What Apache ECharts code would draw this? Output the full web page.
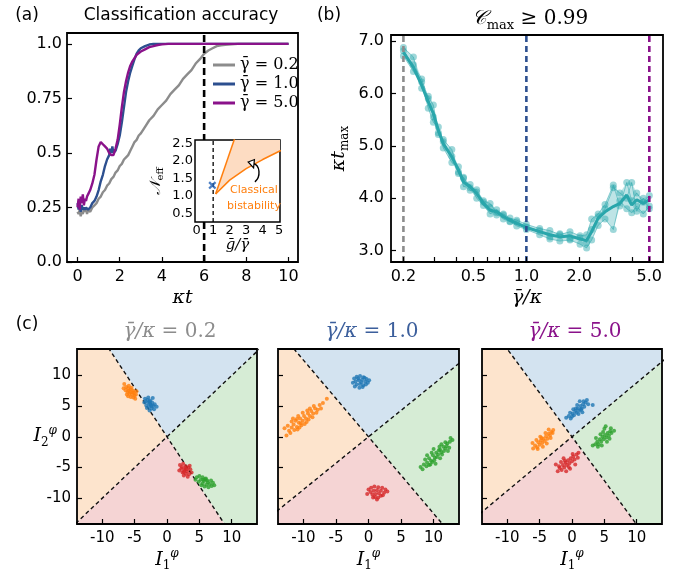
<!DOCTYPE html>
<html><head><meta charset="utf-8">
<script src="https://cdn.jsdelivr.net/npm/echarts@6/dist/echarts.min.js"></script>
<style>html,body{margin:0;padding:0;background:#fff}#c{width:688px;height:583px}</style>
</head><body><div id="c"></div>
<script>
// ---------- Panel (a): classification accuracy ----------
const aGrayT=[0,0.05,0.1,0.15,0.2,0.25,0.3,0.35,0.4,0.45,0.5,0.6,0.7,0.8,0.9,1.0,1.1,1.2,1.3,1.4,1.5,1.6,1.7,1.8,1.9,2.0,2.1,2.2,2.3,2.4,2.5,2.6,2.7,2.8,2.9,3.0,3.2,3.4,3.6,3.8,4.0,4.2,4.4,4.6,4.8,5.0,5.2,5.4,5.6,5.8,6.0,6.2,6.4,6.6,6.8,7.0,7.3,7.6,8.0,9.0,10.0];
const aGrayY=[0.23,0.22,0.24,0.21,0.23,0.22,0.24,0.23,0.25,0.22,0.24,0.23,0.25,0.26,0.27,0.29,0.30,0.32,0.33,0.35,0.36,0.38,0.39,0.41,0.42,0.44,0.45,0.47,0.48,0.49,0.51,0.53,0.55,0.56,0.58,0.59,0.62,0.65,0.67,0.70,0.72,0.74,0.77,0.79,0.81,0.84,0.86,0.88,0.91,0.93,0.955,0.97,0.98,0.99,0.993,0.996,0.998,1.0,1.0,1.0,1.0];
const aBlueT=[0,0.05,0.1,0.15,0.2,0.25,0.3,0.35,0.4,0.5,0.6,0.7,0.8,0.9,1.0,1.1,1.2,1.3,1.4,1.5,1.55,1.6,1.65,1.7,1.8,1.9,2.0,2.1,2.2,2.3,2.4,2.5,2.6,2.7,2.8,2.9,3.0,3.2,3.4,3.6,3.8,4.0,10.0];
const aBlueY=[0.27,0.24,0.28,0.23,0.26,0.24,0.25,0.24,0.25,0.24,0.25,0.27,0.28,0.30,0.33,0.37,0.40,0.44,0.47,0.49,0.52,0.50,0.53,0.50,0.51,0.54,0.58,0.64,0.71,0.78,0.83,0.87,0.90,0.93,0.955,0.97,0.98,0.99,0.997,1.0,1.0,1.0,1.0];
const aPurpT=[0,0.05,0.1,0.15,0.2,0.25,0.3,0.35,0.4,0.45,0.5,0.6,0.7,0.8,0.9,1.0,1.1,1.2,1.3,1.4,1.5,1.6,1.7,1.8,1.9,2.0,2.1,2.2,2.3,2.4,2.5,2.6,2.8,3.0,3.2,3.4,3.6,3.8,4.0,4.3,10.0];
const aPurpY=[0.25,0.29,0.24,0.30,0.27,0.31,0.26,0.29,0.28,0.30,0.31,0.33,0.36,0.40,0.47,0.53,0.55,0.54,0.53,0.52,0.50,0.49,0.49,0.52,0.56,0.63,0.71,0.78,0.83,0.87,0.90,0.92,0.95,0.965,0.975,0.985,0.99,0.995,0.998,1.0,1.0];
const aNames=['γ̄ = 0.2','γ̄ = 1.0','γ̄ = 5.0'];
const aXTicks=[0,2,4,6,8,10];
const aYTicks=[0,0.25,0.5,0.75,1.0];
const aYLabels=['0.0','0.25','0.5','0.75','1.0'];
const aVLine=6;
// inset
const insXTicks=[0,1,2,3,4,5];
const insYTicks=[0.5,1.0,1.5,2.0,2.5];
const insYLabels=['0.5','1.0','1.5','2.0','2.5'];
const insUpper=[[1.15,1.05],[2.4,2.78]];
const insLower=[[1.15,1.05],[2,1.45],[3,1.78],[4,2.04],[5.1,2.3]];
const insCross=[[0.95,1.3]];
const insDash=1;
const insArrow=[[3.53,1.40],[3.9,1.55],[3.85,1.88],[3.42,1.93]]; // start, cp1, cp2, end
const insHead=[[3.12,1.97],[3.50,2.04],[3.45,1.80]];
// ---------- Panel (b) ----------
const bX=[0.2,0.228,0.254,0.277,0.296,0.316,0.337,0.377,0.411,0.439,0.479,0.522,0.570,0.622,0.678,0.740,0.807,0.881,1.0,1.19,1.36,1.55,1.77,2.02,2.20,2.35,2.56,2.80,3.12,3.40,3.72,3.97,4.24,4.62,5.0];
const bMean=[6.79,6.50,6.16,5.84,5.62,5.30,5.04,4.79,4.54,4.31,4.22,4.09,3.90,3.77,3.74,3.65,3.58,3.52,3.44,3.36,3.30,3.26,3.28,3.22,3.19,3.36,3.62,3.74,3.84,3.90,4.06,3.87,3.97,3.90,3.97];
const bRun1=[6.88,6.70,6.10,5.95,5.78,5.25,5.12,4.93,4.47,4.40,4.20,4.16,3.95,3.90,3.72,3.70,3.62,3.58,3.50,3.42,3.38,3.30,3.36,3.28,3.30,3.60,3.70,3.88,4.25,3.85,4.30,3.95,4.10,3.92,4.05];
const bRun2=[6.72,6.42,6.22,5.72,5.45,5.36,4.96,4.68,4.60,4.22,4.26,4.00,3.86,3.70,3.78,3.60,3.55,3.47,3.40,3.30,3.22,3.18,3.20,3.12,3.05,3.20,3.48,3.60,3.40,3.95,3.80,3.72,3.85,3.70,3.85];
const bRun3=[6.82,6.55,6.28,5.90,5.55,5.22,5.08,4.80,4.50,4.38,4.15,4.12,3.92,3.82,3.68,3.68,3.56,3.55,3.45,3.38,3.26,3.32,3.22,3.25,3.15,3.40,3.65,3.80,4.20,4.10,4.00,4.30,3.75,4.00,3.80];
const bXTicks=[0.2,0.3,0.4,0.5,0.6,0.7,0.8,0.9,1,2,3,4,5];
const bXLabels=[0.2,0.5,1,2,5];
const bYTicks=[3,4,5,6,7];
const bVLines=[0.2,1.0,5.0];
// ---------- Panel (c) ----------
const cTicks=[-10,-5,0,5,10];
const cSlopes=[[-1.6,1.0],[-1.25,0.86],[-1.43,0.88]];
const cTitles=['0.2','1.0','5.0'];
const c1Orange=[[-6.6,8.6],[-6.3,8.1],[-6.0,7.9],[-5.6,7.7],[-5.2,7.5],[-6.1,7.3],[-5.8,7.0],[-5.4,6.9],[-5.0,6.7],[-6.4,7.6],[-5.1,7.2],[-5.9,7.5],[-5.5,8.0],[-6.2,6.9],[-4.8,6.9],[-5.6,6.5],[-6.7,7.9],[-5.2,6.4],[-5.9,8.3],[-4.7,7.4],[-5.7,7.3],[-5.3,7.2],[-6.0,6.6],[-4.9,6.2]];
const c1Blue=[[-3.4,6.2],[-3.0,6.0],[-2.6,5.9],[-2.3,5.6],[-2.9,5.5],[-2.5,5.2],[-2.1,5.0],[-3.2,5.1],[-2.8,4.9],[-2.4,4.6],[-1.9,5.3],[-3.5,5.6],[-2.2,6.3],[-2.7,5.7],[-3.1,4.7],[-2.0,4.5],[-1.6,4.9],[-2.9,6.4],[-2.6,5.4],[-3.3,5.8],[-2.4,5.0],[-2.7,4.3]];
const c1Red=[[2.0,-4.6],[2.5,-4.4],[2.9,-4.8],[3.3,-5.0],[2.2,-5.2],[2.7,-5.4],[3.1,-5.6],[3.6,-5.3],[2.4,-5.8],[2.9,-6.0],[3.4,-6.1],[1.9,-5.5],[3.8,-5.8],[2.6,-6.3],[3.2,-6.5],[2.8,-5.1],[2.3,-4.9],[3.5,-4.7],[3.0,-5.3],[2.6,-5.7]];
const c1Green=[[4.6,-6.6],[5.0,-6.4],[5.5,-6.6],[6.0,-6.8],[5.2,-7.0],[5.7,-7.2],[6.3,-7.4],[6.8,-7.1],[4.9,-7.3],[5.5,-7.6],[6.1,-7.8],[6.6,-7.7],[7.1,-7.5],[5.8,-8.1],[6.4,-8.2],[5.3,-7.9],[4.4,-7.0],[6.9,-8.0],[5.9,-6.9],[6.2,-7.1],[5.6,-7.0],[7.3,-7.9]];
const c2Blue=[[-2.2,9.5],[-1.8,9.8],[-1.3,9.9],[-0.8,9.7],[-0.3,9.4],[-2.0,9.0],[-1.5,9.2],[-1.0,9.3],[-0.5,9.0],[-0.1,8.8],[-1.8,8.5],[-1.3,8.6],[-0.8,8.4],[-0.4,8.5],[-1.4,8.0],[-0.9,8.1],[-2.4,8.8],[0.1,9.2],[-1.1,8.9],[-0.6,9.6],[-1.6,9.5],[-2.1,8.2]];
const c2Orange=[[-12.6,0.2],[-12.2,1.0],[-11.8,1.5],[-11.5,2.0],[-11.0,1.6],[-11.2,2.6],[-10.7,2.3],[-10.5,3.0],[-10.1,2.6],[-9.9,3.4],[-9.6,3.0],[-9.3,3.8],[-9.0,3.4],[-8.8,4.2],[-8.5,3.8],[-8.2,4.6],[-7.8,4.4],[-7.5,5.2],[-7.0,5.5],[-6.4,6.2],[-11.8,2.5],[-10.3,1.9],[-9.5,2.4],[-10.8,3.4],[-12.4,1.8],[-9.0,4.6],[-12.0,0.6],[-11.4,1.1],[-10.9,1.2],[-10.4,2.2],[-9.8,2.1],[-11.6,3.0],[-10.1,3.9],[-9.4,4.3],[-8.6,3.2],[-8.0,3.9],[-9.2,2.8],[-10.6,1.5],[-11.0,2.9],[-8.4,5.0],[-7.3,4.6],[-12.9,1.4]];
const c2Green=[[8.0,-4.9],[8.5,-4.5],[9.0,-4.2],[9.3,-3.5],[9.6,-3.9],[9.9,-3.0],[10.2,-3.4],[10.4,-2.6],[10.7,-2.9],[11.0,-2.1],[11.2,-2.5],[11.5,-1.6],[11.8,-1.9],[12.1,-1.1],[12.5,-0.8],[12.9,-0.5],[9.0,-3.0],[10.0,-2.0],[11.0,-3.5],[9.5,-4.5],[11.8,-0.9],[8.7,-3.7],[12.2,-2.3],[8.3,-5.3],[8.9,-4.8],[9.3,-4.6],[9.8,-4.1],[10.1,-3.8],[10.5,-3.3],[10.8,-2.2],[11.3,-2.9],[11.6,-2.3],[12.0,-1.5],[12.4,-1.8],[10.3,-4.4],[9.7,-2.6],[11.2,-1.2],[12.6,-0.2],[10.9,-1.6]];
const c2Red=[[0.0,-8.6],[0.4,-8.3],[0.9,-8.1],[1.5,-8.2],[2.1,-8.3],[2.6,-8.6],[0.3,-9.0],[0.8,-8.8],[1.3,-8.7],[1.9,-8.8],[2.4,-9.1],[0.6,-9.4],[1.1,-9.3],[1.6,-9.2],[2.2,-9.5],[1.0,-9.8],[1.5,-9.9],[-0.2,-9.3],[2.9,-8.9],[1.3,-10.2],[0.7,-9.9],[1.9,-9.6]];
const c3Blue=[[-0.9,3.1],[-0.5,3.4],[-0.2,3.0],[0.1,3.8],[0.3,3.5],[0.5,4.2],[0.7,3.9],[0.9,4.6],[1.1,4.3],[1.3,5.0],[1.5,4.6],[1.7,5.3],[1.9,4.9],[2.1,5.6],[2.5,5.3],[1.2,5.8],[0.2,4.5],[1.6,4.0],[-0.3,3.9],[3.2,5.2],[0.8,5.2],[2.3,6.0],[0.0,3.3],[0.6,4.6],[1.4,4.4],[1.0,3.7],[1.8,5.8]];
const c3Orange=[[-6.0,-1.9],[-5.7,-1.4],[-5.4,-1.7],[-5.2,-0.9],[-5.0,-1.3],[-4.8,-0.6],[-4.6,-1.0],[-4.4,-0.3],[-4.2,-0.7],[-4.0,0.1],[-3.8,-0.3],[-3.6,0.5],[-3.4,0.2],[-3.2,0.8],[-3.0,0.6],[-3.6,1.2],[-5.5,-0.5],[-4.5,-1.6],[-4.9,0.0],[-3.9,-1.1],[-6.1,-1.0],[-2.9,1.1],[-5.3,-2.0],[-4.1,0.6],[-4.7,-0.2],[-3.3,-0.2]];
const c3Green=[[3.2,-1.4],[3.6,-1.2],[3.9,-0.8],[4.1,-1.2],[4.3,-0.4],[4.5,-0.8],[4.7,0.0],[4.9,-0.4],[5.1,0.3],[5.3,-0.1],[5.5,0.6],[5.7,0.2],[5.9,0.9],[6.1,0.6],[5.0,1.3],[4.4,0.4],[5.4,-0.8],[3.7,-0.2],[6.5,1.0],[4.8,0.8],[5.8,-0.3],[4.0,-1.6],[5.2,1.7],[4.6,-1.4],[6.0,1.4]];
const c3Red=[[-2.2,-5.6],[-1.9,-5.1],[-1.6,-5.4],[-1.4,-4.6],[-1.2,-5.0],[-1.0,-4.2],[-0.8,-4.6],[-0.6,-3.8],[-0.4,-4.3],[-0.2,-3.5],[0.0,-4.0],[0.2,-3.2],[0.4,-3.7],[0.7,-2.9],[1.0,-2.6],[-1.7,-4.1],[-0.3,-5.2],[0.5,-4.5],[-1.3,-3.5],[0.9,-3.4],[-2.5,-4.5],[-0.9,-5.6],[-0.5,-4.9],[-1.1,-3.9],[0.1,-2.8],[-2.0,-4.8]];
const cClusters=[[c1Blue,c1Orange,c1Green,c1Red],[c2Blue,c2Orange,c2Green,c2Red],[c3Blue,c3Orange,c3Green,c3Red]];

// ---------- styling ----------
const SANS='DejaVu Sans', SERIF='DejaVu Serif';
const colGray='#8c8c8c', colBlue='#2c4f8f', colPurp='#8a128a', teal='#29a6ab';
const tab=['#1f77b4','#ff7f0e','#2ca02c','#d62728'];
const fills=['#d3e3f0','#fde4cd','#d6ecd5','#f5d4d4'];
const pairs=(xs,ys)=>xs.map((x,i)=>[x,ys[i]]);

function axis(o){
  const a={type:o.type||'value',gridIndex:o.g,min:o.min,max:o.max,z:30,
    axisLine:{show:false,onZero:false},splitLine:{show:false},
    axisTick:{show:o.tl!==0,inside:true,length:o.tl||5,customValues:o.ticks,lineStyle:{color:'#000',width:1.2}},
    axisLabel:{show:o.labels!==false,customValues:o.labVals||o.ticks,color:'#000',fontFamily:SANS,fontSize:o.fs||16,margin:o.margin||6,formatter:o.fmt}};
  if(o.type==='log') a.logBase=10;
  if(o.name){a.name=o.name;a.nameLocation='middle';a.nameGap=o.gap;a.nameRotate=o.rot||0;a.nameTextStyle=o.nts;a.nameMoveOverlap=false;}
  return a;
}
const mathRich={i:{fontFamily:SERIF,fontStyle:'italic',fontSize:19,color:'#000',lineHeight:24},
  n:{fontFamily:SERIF,fontSize:19,color:'#000',lineHeight:24},
  sb:{fontFamily:SERIF,fontSize:12,color:'#000',verticalAlign:'bottom',lineHeight:24},
  sp:{fontFamily:SERIF,fontStyle:'italic',fontSize:12,color:'#000',verticalAlign:'top',lineHeight:24}};

const xAxis=[], yAxis=[];
// a
xAxis.push(axis({g:0,min:-0.5,max:10.45,ticks:aXTicks,fs:16,margin:7,name:'{i|κt}',gap:24,nts:{rich:mathRich}}));
yAxis.push(axis({g:0,min:0,max:1.05,ticks:aYTicks,fs:16,margin:5,fmt:v=>aYLabels[aYTicks.indexOf(v)]}));
// inset
xAxis.push(axis({g:1,min:-0.1,max:5.05,ticks:insXTicks,fs:13,margin:2,tl:0,name:'{i|ḡ/γ̄}',gap:16,nts:{rich:{i:{fontFamily:SERIF,fontStyle:'italic',fontSize:15,color:'#000'}}}}));
yAxis.push(axis({g:1,min:0.25,max:2.6,ticks:insYTicks,fs:13,margin:2,tl:0,fmt:v=>insYLabels[insYTicks.indexOf(v)],name:'{i|𝒩}{s|eff}',gap:30,rot:90,nts:{rich:{i:{fontFamily:SERIF,fontStyle:'italic',fontSize:15,color:'#000',lineHeight:18},s:{fontFamily:SERIF,fontSize:10,color:'#000',verticalAlign:'bottom',lineHeight:18}}}}));
// b
xAxis.push(axis({g:2,type:'log',min:0.17,max:5.98,ticks:bXTicks,labVals:bXLabels,fs:16,margin:7,fmt:v=>v.toFixed(1),name:'{i|γ̄/κ}',gap:24,nts:{rich:mathRich}}));
yAxis.push(axis({g:2,min:2.78,max:7.12,ticks:bYTicks,fs:16,margin:7,fmt:v=>v.toFixed(1),name:'{i|κt}{sb|max}',gap:40,rot:90,nts:{rich:mathRich}}));
// c
for(let k=0;k<3;k++){
  xAxis.push(axis({g:3+k,min:-13.9,max:13.9,ticks:cTicks,fs:15,margin:7,name:'{i|I}{sb|1}{sp|φ}',gap:24,nts:{rich:mathRich}}));
  yAxis.push(axis({g:3+k,min:-14.2,max:14.3,ticks:cTicks,fs:15,margin:6,labels:k===0,
    name:k===0?'{i|I}{sb|2}{sp|φ}':'',gap:20,rot:0,nts:{rich:mathRich}}));
}

const series=[];
// ---- (a) ----
[[aGrayT,aGrayY,colGray],[aBlueT,aBlueY,colBlue],[aPurpT,aPurpY,colPurp]].forEach((d,i)=>{
  series.push({type:'line',name:aNames[i],xAxisIndex:0,yAxisIndex:0,data:pairs(d[0],d[1]),showSymbol:false,
    lineStyle:{color:d[2],width:2.4},itemStyle:{color:d[2]},z:2});
});
series.push({type:'line',xAxisIndex:0,yAxisIndex:0,data:[[aVLine,0],[aVLine,1.05]],showSymbol:false,
  lineStyle:{color:'#000',width:2.6,type:[7,4]},z:3});
// ---- inset ----
series.push({type:'custom',xAxisIndex:1,yAxisIndex:1,data:[[0,1]],z:5,silent:true,
  renderItem:(p,api)=>{const c=p.coordSys;return {type:'rect',shape:{x:c.x,y:c.y,width:c.width,height:c.height},style:{fill:'#fff',stroke:'#000',lineWidth:1.5}};}});
series.push({type:'custom',xAxisIndex:1,yAxisIndex:1,data:[[1,1]],z:6,clip:true,silent:true,
  renderItem:(p,api)=>{
    const pts=[...insUpper,[5.3,2.78],[5.3,insLower[insLower.length-1][1]],...insLower.slice().reverse()].map(q=>api.coord(q));
    return {type:'polygon',shape:{points:pts},style:{fill:'#fddcc2'}};}});
series.push({type:'line',xAxisIndex:1,yAxisIndex:1,data:insUpper,showSymbol:false,lineStyle:{color:'#ff7f0e',width:1.5},z:7});
series.push({type:'line',xAxisIndex:1,yAxisIndex:1,data:insLower,showSymbol:false,lineStyle:{color:'#ff7f0e',width:1.5},z:7});
series.push({type:'line',xAxisIndex:1,yAxisIndex:1,data:[[insDash,0.25],[insDash,2.6]],showSymbol:false,lineStyle:{color:'#000',width:1.3,type:[4,3]},z:7});
series.push({type:'scatter',xAxisIndex:1,yAxisIndex:1,data:insCross,symbol:'path://M0,2L2,0L5,3L8,0L10,2L7,5L10,8L8,10L5,7L2,10L0,8L3,5Z',symbolSize:8,itemStyle:{color:'#1f5fb4'},z:8});
series.push({type:'custom',xAxisIndex:1,yAxisIndex:1,data:[[2,1]],z:8,silent:true,
  renderItem:(p,api)=>{
    const a=insArrow.map(q=>api.coord(q)), h=insHead.map(q=>api.coord(q));
    return {type:'group',children:[
      {type:'bezierCurve',shape:{x1:a[0][0],y1:a[0][1],cpx1:a[1][0],cpy1:a[1][1],cpx2:a[2][0],cpy2:a[2][1],x2:a[3][0],y2:a[3][1]},style:{stroke:'#000',lineWidth:1.4,fill:null}},
      {type:'polygon',shape:{points:h},style:{fill:'#fff',stroke:'#000',lineWidth:1.2}}]};}});
// ---- (b) ----
series.push({type:'custom',xAxisIndex:2,yAxisIndex:2,data:[[1,5]],z:2,silent:true,
  renderItem:(p,api)=>{
    const up=bX.map((x,i)=>api.coord([x,Math.max(bRun1[i],bRun2[i],bRun3[i])]));
    const lo=bX.map((x,i)=>api.coord([x,Math.min(bRun1[i],bRun2[i],bRun3[i])])).reverse();
    return {type:'polygon',shape:{points:up.concat(lo)},style:{fill:teal,opacity:0.3}};}});
[bRun1,bRun2,bRun3].forEach(r=>{
  series.push({type:'line',xAxisIndex:2,yAxisIndex:2,data:pairs(bX,r),symbol:'circle',symbolSize:7,showSymbol:true,
    lineStyle:{color:teal,width:1,opacity:0.5},itemStyle:{color:teal,opacity:0.45},z:3});
});
series.push({type:'line',xAxisIndex:2,yAxisIndex:2,data:pairs(bX,bMean),showSymbol:false,lineStyle:{color:teal,width:3},z:4});
[[bVLines[0],colGray],[bVLines[1],colBlue],[bVLines[2],colPurp]].forEach(v=>{
  series.push({type:'line',xAxisIndex:2,yAxisIndex:2,data:[[v[0],2.78],[v[0],7.12]],showSymbol:false,
    lineStyle:{color:v[1],width:2.6,type:[6,4]},z:5});
});
// ---- (c) ----
for(let k=0;k<3;k++){
  const [m1,m2]=cSlopes[k], R=40, H=400;
  const polys=[
    [[0,0],[R,m2*R],[R,H],[-R,H],[-R,-m1*R]],
    [[0,0],[-R,-m1*R],[-R,-m2*R]],
    [[0,0],[R,m2*R],[R,m1*R]],
    [[0,0],[R,m1*R],[R,-H],[-R,-H],[-R,-m2*R]]];
  series.push({type:'custom',xAxisIndex:3+k,yAxisIndex:3+k,data:[[0,0]],clip:true,silent:true,z:1,
    renderItem:(p,api)=>({type:'group',children:polys.map((q,j)=>({type:'polygon',shape:{points:q.map(pt=>api.coord(pt))},style:{fill:fills[j]}}))})});
  [m1,m2].forEach(m=>series.push({type:'line',xAxisIndex:3+k,yAxisIndex:3+k,data:[[-R,-m*R],[R,m*R]],showSymbol:false,clip:true,
    lineStyle:{color:'#111',width:1.4,type:[4,3]},z:3}));
  cClusters[k].forEach((pts,j)=>series.push({type:'scatter',xAxisIndex:3+k,yAxisIndex:3+k,data:pts,symbolSize:4,
    itemStyle:{color:tab[j]},z:4}));
}

const grid=[
  {left:67,top:33,width:231,height:229},
  {left:195,top:140,width:85,height:82,show:false},
  {left:391,top:35,width:272,height:227},
  {left:77,top:349,width:180,height:175},
  {left:278,top:349,width:181,height:175},
  {left:482,top:349,width:180,height:175}].map((g,i)=>Object.assign({show:true,borderColor:'#000',borderWidth:1.8,backgroundColor:'transparent',z:20},g));

const titleRich={i:{fontFamily:SERIF,fontStyle:'italic',fontSize:20},n:{fontFamily:SERIF,fontSize:20},s:{fontFamily:SERIF,fontSize:13,verticalAlign:'bottom',lineHeight:26}};
function txt(x,y,text,font,fill,rich){return {type:'text',x,y,z:100,style:{text,font,fill:fill||'#000',align:'center',verticalAlign:'middle',rich}};}
const cTitleCols=[colGray,'#3c5f9c',colPurp];
const cTitleX=[170,372,575];
const graphic=[
  txt(27,16,'(a)','17px '+SANS),
  txt(181,16,'Classification accuracy','17px '+SANS),
  txt(329,16,'(b)','17px '+SANS),
  txt(530,19,'{i|𝒞}{s|max}{n| ≥ 0.99}','20px '+SERIF,'#000',titleRich),
  txt(27,325,'(c)','17px '+SANS),
  txt(254,190,'Classical','11px '+SANS,'#ff7f0e'),
  txt(254,206,'bistability','11px '+SANS,'#ff7f0e')
];
for(let k=0;k<3;k++){
  const r={i:{fontFamily:SERIF,fontStyle:'italic',fontSize:20,color:cTitleCols[k]},n:{fontFamily:SERIF,fontSize:20,color:cTitleCols[k]}};
  graphic.push(txt(cTitleX[k],332,'{i|γ̄/κ}{n| = '+cTitles[k]+'}','20px '+SERIF,cTitleCols[k],r));
}

const chart=echarts.init(document.getElementById('c'),null,{renderer:'canvas'});
chart.setOption({
  animation:false,
  grid,xAxis,yAxis,series,graphic,
  legend:{data:aNames,left:208,top:52,orient:'vertical',itemGap:3,itemWidth:22,itemHeight:3,icon:'rect',
    textStyle:{fontFamily:SERIF,fontSize:16,color:'#000'},z:30},
});
</script></body></html>
